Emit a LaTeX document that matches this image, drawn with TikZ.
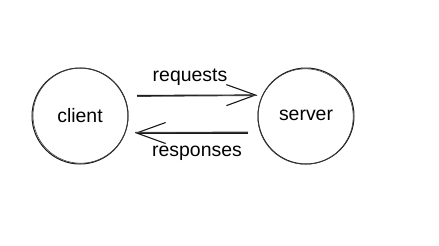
\documentclass[tikz,border=0pt]{standalone}
\usepackage{fontspec}
\setmainfont{Liberation Sans}
\usetikzlibrary{arrows.meta}
\begin{document}
\begin{tikzpicture}[x=1bp,y=-1bp,
  ink/.style={draw=black!90,line width=1bp},
  party/.style={circle,ink,minimum size=96bp,inner sep=0pt,font=\fontsize{19.5}{22}\selectfont},
  lbl/.style={font=\fontsize{19.5}{22}\selectfont,inner sep=0pt},
  flow/.style={ink,line width=1.2bp,-{Straight Barb[length=29bp,width=21bp,line width=1.1bp]}},
  sketch/.style={draw=black!75,line width=0.6bp}]
\useasboundingbox (0,0) rectangle (439,245);
\node[party] (client) at (80,116) {\raisebox{1.5bp}{client}};
\node[party] (server) at (306,116) {\raisebox{1.5bp}{server}};
\draw[sketch] (80.6,115.6) circle (47.6bp);
\draw[sketch] (305.5,116.5) circle (47.7bp);
\coordinate (rqs) at (137,95.5);
\coordinate (rqe) at (257,95);
\coordinate (rss) at (248,133);
\coordinate (rse) at (135,133);
\draw[flow] (rqs) -- (rqe);
\draw[sketch,line width=0.9bp] ([yshift=-0.9bp]rqs) -- ([yshift=-0.5bp]rqe);
\draw[flow] (rss) -- (rse);
\draw[sketch,line width=0.9bp] ([yshift=0.9bp]rss) -- ([yshift=0.6bp]rse);
\node[lbl] (req) at (190,77.5) {requests};
\node[lbl] (res) at (197,153.5) {responses};
\end{tikzpicture}
\end{document}
